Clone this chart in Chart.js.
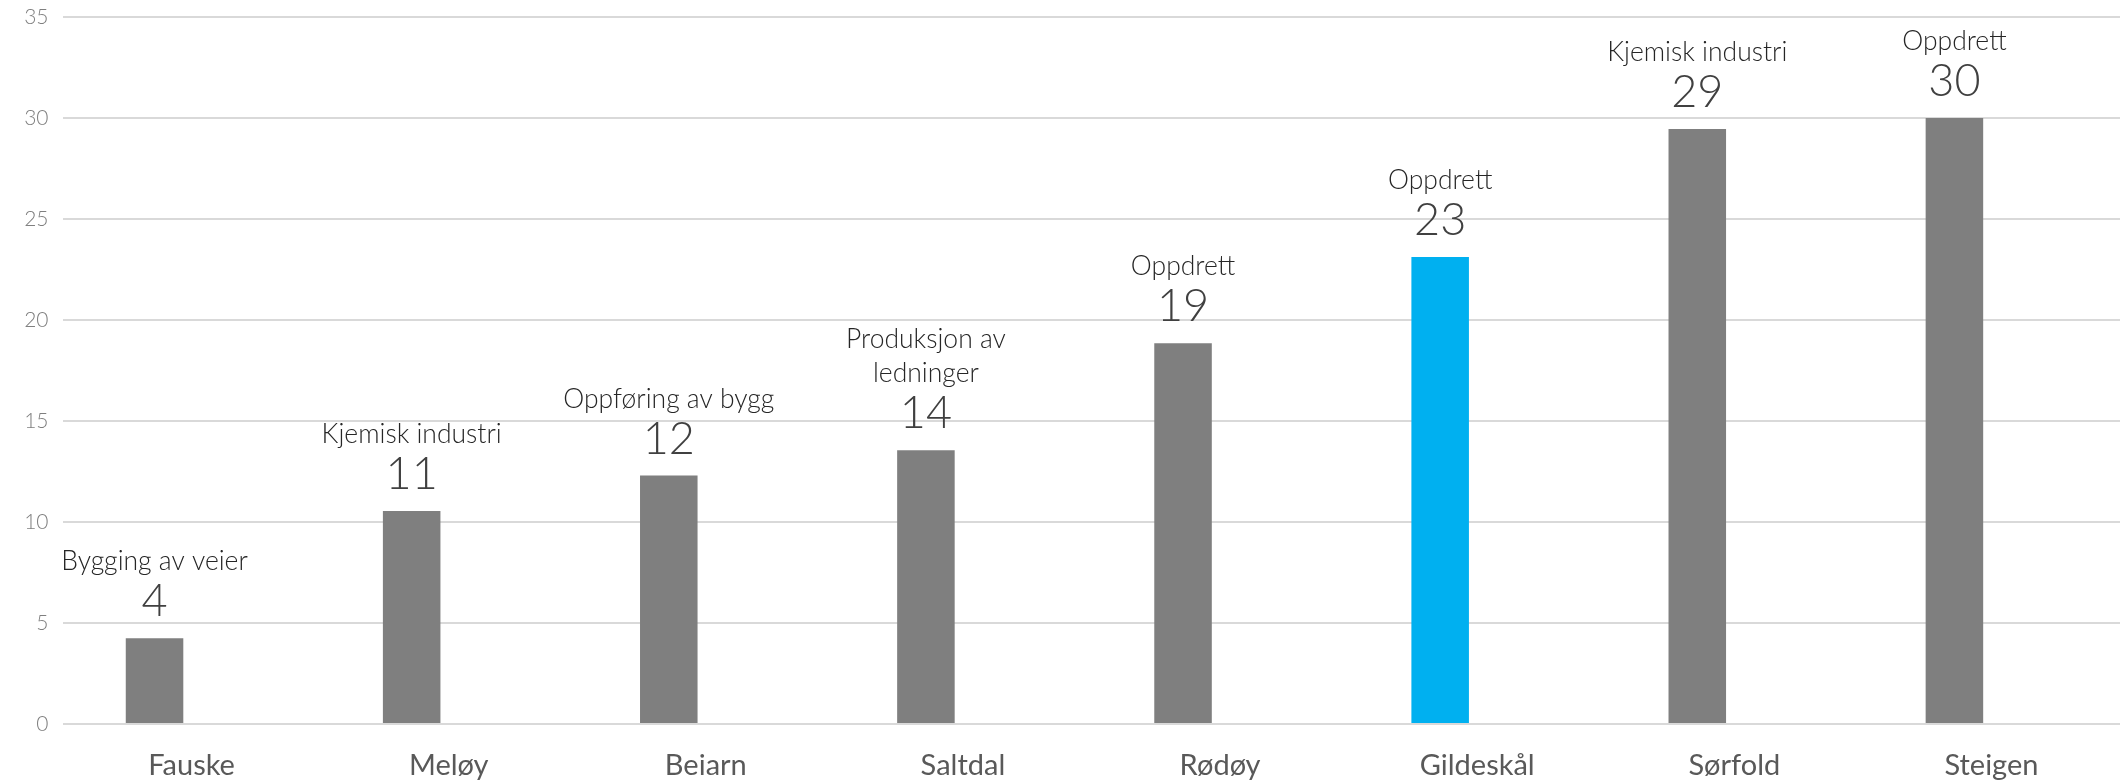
<!DOCTYPE html>
<html>
<head>
    <meta charset="utf-8">
    <title>Andel per kommune</title>
    <style>
        html, body { margin: 0; padding: 0; background: #fff; }
        #chart { width: 2123px; height: 782px; }
    </style>
</head>
<body>
    <div id="chart">
        <canvas id="myChart" width="2123" height="782"></canvas>
    </div>
</body>
<script src="https://cdn.jsdelivr.net/npm/chart.js@4/dist/chart.umd.min.js"></script>
<script>
    // kommuner langs x-aksen
    const kommuner = ["Fauske", "Meløy", "Beiarn", "Saltdal", "Rødøy", "Gildeskål", "Sørfold", "Steigen"];
    // verdier lest av figuren
    const verdier = [4.24, 10.55, 12.3, 13.55, 18.85, 23.12, 29.45, 30.0];
    // største næring per kommune (tekst over søylene)
    const naeringer = [
        ["Bygging av veier"],
        ["Kjemisk industri"],
        ["Oppføring av bygg"],
        ["Produksjon av", "ledninger"],
        ["Oppdrett"],
        ["Oppdrett"],
        ["Kjemisk industri"],
        ["Oppdrett"]
    ];
    const yTicks = [0, 5, 10, 15, 20, 25, 30, 35];
    const uthevet = "Gildeskål";

    const ctx = document.getElementById('myChart').getContext('2d');

    let barColors = [];
    for (let i = 0; i < kommuner.length; i++) {
        barColors[i] = kommuner[i] == uthevet ? "#00B0F0" : "#7F7F7F";
    }

    // tekst + tall over hver søyle
    const etiketter = {
        id: 'etiketter',
        afterDatasetsDraw(chart) {
            const c = chart.ctx;
            const meta = chart.getDatasetMeta(0);
            c.save();
            c.textAlign = 'center';
            c.textBaseline = 'alphabetic';
            meta.data.forEach((bar, i) => {
                const tallY = bar.y - 22;
                c.fillStyle = '#404040';
                c.font = '300 45px Lato';
                c.fillText(String(Math.round(verdier[i])), bar.x, tallY);
                c.fillStyle = '#262626';
                c.font = '300 26.5px Lato';
                const linjer = naeringer[i];
                for (let j = 0; j < linjer.length; j++) {
                    const y = tallY - 46 - (linjer.length - 1 - j) * 34;
                    c.fillText(linjer[j], bar.x, y);
                }
            });
            c.restore();
        }
    };

    const myChart = new Chart(ctx, {
        type: 'bar',
        data: {
            labels: kommuner,
            datasets: [{
                label: 'Andel',
                data: verdier,
                backgroundColor: barColors,
                categoryPercentage: 0.576,
                barPercentage: 0.777
            }, {
                label: '',
                data: kommuner.map(() => null),
                backgroundColor: 'rgba(0,0,0,0)',
                categoryPercentage: 0.576,
                barPercentage: 0.777
            }]
        },
        options: {
            responsive: false,
            animation: false,
            layout: {
                padding: { top: 17, left: 0, right: 3, bottom: 0 }
            },
            plugins: {
                legend: { display: false },
                tooltip: { enabled: false }
            },
            scales: {
                x: {
                    afterFit: (scale) => { scale.height = 58; },
                    grid: { display: false },
                    border: { display: false },
                    ticks: {
                        color: '#595959',
                        font: { family: 'Lato', size: 29 },
                        padding: 16,
                        maxRotation: 0
                    }
                },
                y: {
                    min: 0,
                    max: 35,
                    afterFit: (scale) => {
                        scale.width = 63;
                        scale.paddingTop = 0;
                        scale.paddingBottom = 0;
                    },
                    afterBuildTicks: (axis) => { axis.ticks = yTicks.map(v => ({ value: v })); },
                    grid: { color: '#D9D9D9', lineWidth: 2, drawTicks: false },
                    border: { display: false },
                    ticks: {
                        color: '#7F7F7F',
                        font: { family: 'Lato', size: 21, weight: '300' },
                        padding: 14.5
                    }
                }
            }
        },
        plugins: [etiketter]
    });
</script>
</html>
